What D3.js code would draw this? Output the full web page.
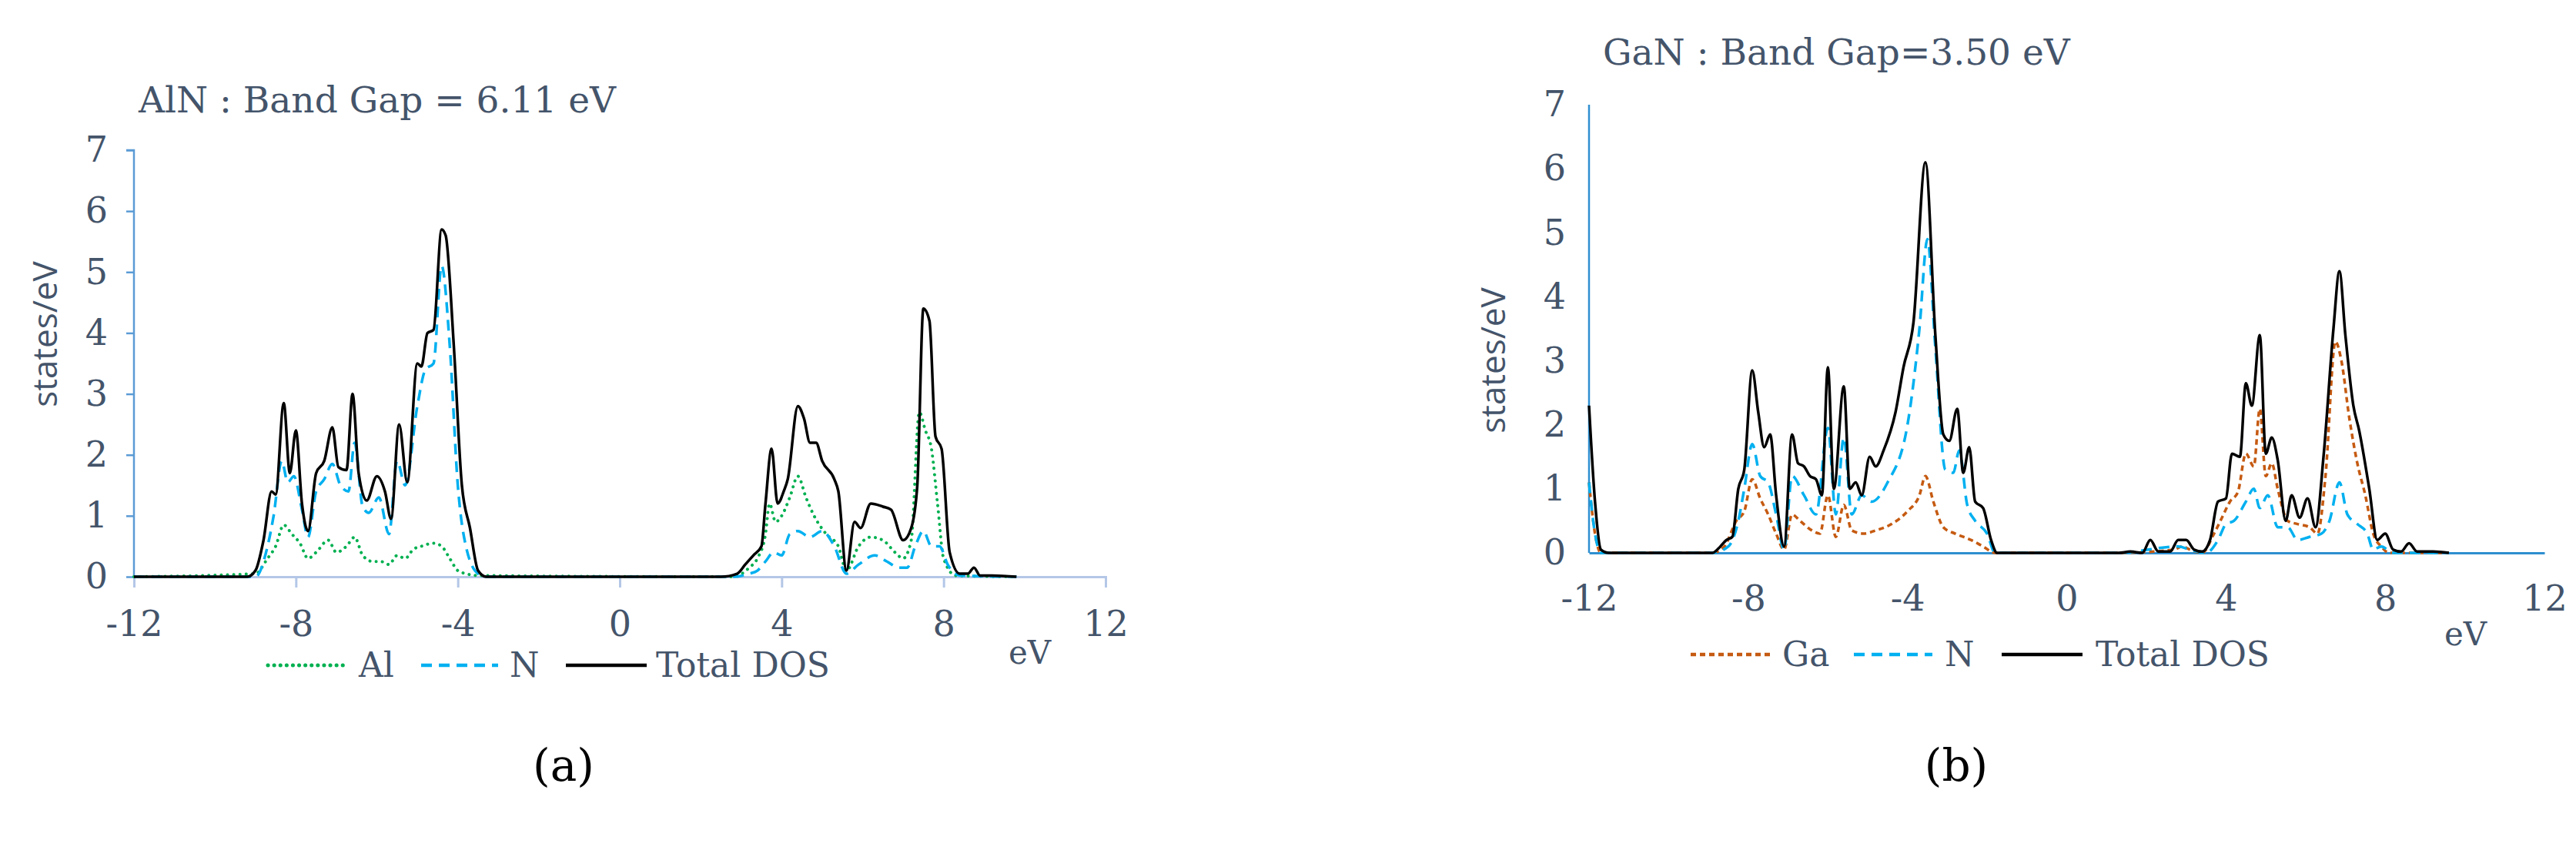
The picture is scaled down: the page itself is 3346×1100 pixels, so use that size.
<!DOCTYPE html>
<html><head><meta charset="utf-8">
<script src="https://cdn.jsdelivr.net/npm/d3@7"></script>
<style>body{margin:0;background:#fff}svg{display:block}</style>
</head><body>
<svg id="c" width="3346" height="1100"></svg>
<script>
// ---- data ----
const xTicks = [-12,-8,-4,0,4,8,12];
const yTicks = [0,1,2,3,4,5,6,7];
const alnTotal = [[-12,0],[-9.2,0],[-9,0.1],[-8.8,0.6],[-8.6,1.4],[-8.5,1.35],[-8.3,2.85],[-8.15,1.7],[-8.0,2.4],[-7.85,1.2],[-7.7,0.75],[-7.5,1.7],[-7.3,1.9],[-7.1,2.45],[-6.95,1.8],[-6.75,1.75],[-6.6,3.0],[-6.45,1.7],[-6.25,1.25],[-6.0,1.65],[-5.8,1.4],[-5.65,0.95],[-5.45,2.5],[-5.25,1.55],[-5.0,3.5],[-4.9,3.45],[-4.75,4.0],[-4.6,4.05],[-4.4,5.7],[-4.3,5.6],[-4.1,3.8],[-3.9,1.5],[-3.7,0.8],[-3.5,0.1],[-3.3,0],[2.5,0],[2.9,0.05],[3.1,0.2],[3.3,0.35],[3.5,0.5],[3.6,1.2],[3.75,2.1],[3.9,1.2],[4.05,1.4],[4.15,1.6],[4.4,2.8],[4.55,2.6],[4.7,2.2],[4.85,2.2],[5.0,1.9],[5.3,1.6],[5.4,1.4],[5.6,0.1],[5.8,0.9],[5.95,0.8],[6.2,1.2],[6.5,1.15],[6.7,1.1],[7.0,0.6],[7.2,0.8],[7.35,1.5],[7.5,4.4],[7.65,4.2],[7.8,2.3],[7.95,2.1],[8.15,0.4],[8.4,0.05],[8.6,0.05],[8.75,0.15],[8.9,0.02],[9.2,0.02],[9.8,0]];
const alnN = [[-12,0],[-9,0],[-8.7,0.5],[-8.55,1.0],[-8.35,1.9],[-8.2,1.55],[-8.05,1.65],[-7.85,1.1],[-7.7,0.65],[-7.5,1.4],[-7.3,1.6],[-7.1,1.85],[-6.9,1.5],[-6.7,1.4],[-6.55,2.2],[-6.35,1.15],[-6.2,1.05],[-5.95,1.3],[-5.7,0.7],[-5.5,1.9],[-5.3,1.5],[-5.0,2.8],[-4.8,3.4],[-4.6,3.5],[-4.4,5.1],[-4.2,3.8],[-4.0,1.5],[-3.8,0.5],[-3.5,0.05],[-3.3,0],[2.8,0],[3.2,0.05],[3.4,0.1],[3.6,0.25],[3.8,0.4],[4.0,0.35],[4.2,0.7],[4.4,0.75],[4.7,0.65],[5.0,0.75],[5.3,0.5],[5.6,0.05],[5.9,0.2],[6.3,0.35],[6.6,0.25],[6.9,0.15],[7.1,0.15],[7.3,0.5],[7.5,0.75],[7.7,0.5],[7.9,0.5],[8.1,0.2],[8.4,0.02],[9.8,0]];
const alnAl = [[-12,0],[-9,0.05],[-8.7,0.3],[-8.5,0.5],[-8.3,0.85],[-8.1,0.7],[-7.9,0.55],[-7.7,0.3],[-7.5,0.4],[-7.2,0.6],[-7.0,0.4],[-6.75,0.5],[-6.55,0.65],[-6.35,0.35],[-6.1,0.25],[-5.9,0.25],[-5.7,0.2],[-5.5,0.35],[-5.3,0.3],[-5.1,0.45],[-4.9,0.5],[-4.6,0.55],[-4.4,0.5],[-4.2,0.3],[-4.0,0.1],[-3.8,0.05],[-3.5,0.02],[2.8,0],[3.2,0.15],[3.4,0.3],[3.6,0.7],[3.7,1.2],[3.85,0.9],[4.0,1.0],[4.2,1.3],[4.4,1.65],[4.6,1.3],[4.8,1.0],[5.1,0.7],[5.4,0.5],[5.6,0.1],[5.9,0.5],[6.2,0.65],[6.5,0.6],[6.8,0.4],[7.0,0.3],[7.2,0.6],[7.4,2.7],[7.55,2.4],[7.7,2.1],[7.85,1.2],[8.0,0.3],[8.3,0.02],[9.8,0]];
const ganTotal = [[-12,2.3],[-11.85,0.8],[-11.7,0.05],[-11.5,0],[-8.9,0],[-8.7,0.1],[-8.55,0.2],[-8.4,0.25],[-8.25,1.0],[-8.1,1.3],[-7.9,2.85],[-7.75,2.2],[-7.6,1.65],[-7.45,1.85],[-7.3,0.9],[-7.1,0.1],[-6.9,1.85],[-6.75,1.4],[-6.6,1.35],[-6.45,1.2],[-6.3,1.15],[-6.15,0.9],[-6.0,2.9],[-5.85,1.0],[-5.6,2.6],[-5.45,1.0],[-5.3,1.1],[-5.15,0.9],[-4.95,1.5],[-4.8,1.35],[-4.6,1.6],[-4.3,2.2],[-4.1,2.9],[-3.85,3.6],[-3.55,6.1],[-3.3,3.4],[-3.1,1.85],[-2.95,1.75],[-2.75,2.25],[-2.6,1.25],[-2.45,1.65],[-2.3,0.8],[-2.1,0.7],[-1.9,0.2],[-1.75,0],[1.3,0],[1.6,0.02],[1.9,0],[2.1,0.2],[2.3,0.02],[2.6,0.02],[2.8,0.2],[3.0,0.2],[3.2,0.05],[3.4,0.02],[3.6,0.2],[3.8,0.8],[4.0,0.85],[4.15,1.55],[4.35,1.5],[4.5,2.65],[4.65,2.3],[4.85,3.4],[5.0,1.55],[5.15,1.8],[5.3,1.45],[5.5,0.5],[5.65,0.9],[5.85,0.55],[6.05,0.85],[6.25,0.4],[6.45,1.5],[6.7,3.5],[6.85,4.4],[7.0,3.4],[7.2,2.3],[7.35,1.9],[7.6,1.0],[7.8,0.2],[8.0,0.3],[8.2,0.05],[8.4,0.02],[8.6,0.15],[8.8,0.02],[9.2,0.02],[9.6,0]];
const ganGa = [[-12,1.1],[-11.85,0.3],[-11.7,0],[-8.9,0],[-8.6,0.1],[-8.3,0.5],[-8.1,0.65],[-7.9,1.15],[-7.7,0.85],[-7.5,0.6],[-7.3,0.3],[-7.1,0.05],[-6.9,0.6],[-6.7,0.5],[-6.4,0.35],[-6.2,0.3],[-6.0,0.9],[-5.8,0.25],[-5.6,0.75],[-5.4,0.35],[-5.1,0.3],[-4.8,0.35],[-4.4,0.45],[-4.0,0.65],[-3.7,0.9],[-3.55,1.2],[-3.35,0.8],[-3.1,0.4],[-2.8,0.3],[-2.4,0.2],[-2.1,0.1],[-1.8,0],[1.3,0],[2.7,0.05],[2.9,0.1],[3.1,0.05],[3.4,0],[3.7,0.3],[3.9,0.55],[4.1,0.8],[4.3,0.95],[4.5,1.55],[4.7,1.35],[4.85,2.25],[5.0,1.2],[5.15,1.4],[5.3,1.0],[5.55,0.5],[5.8,0.45],[6.1,0.4],[6.3,0.3],[6.5,1.2],[6.75,3.3],[6.9,3.0],[7.1,2.1],[7.3,1.4],[7.5,0.9],[7.7,0.3],[7.9,0.1],[8.1,0],[9.6,0]];
const ganN = [[-12,1.1],[-11.85,0.3],[-11.7,0],[-8.9,0],[-8.5,0.1],[-8.25,0.5],[-8.1,1.0],[-7.9,1.7],[-7.7,1.2],[-7.5,1.1],[-7.3,0.6],[-7.1,0.05],[-6.9,1.2],[-6.6,0.9],[-6.3,0.6],[-6.0,1.95],[-5.8,0.6],[-5.6,1.8],[-5.4,0.6],[-5.15,0.9],[-4.9,0.8],[-4.5,1.1],[-4.0,2.0],[-3.7,3.5],[-3.5,4.9],[-3.3,3.2],[-3.05,1.3],[-2.85,1.25],[-2.7,1.6],[-2.5,0.75],[-2.3,0.5],[-2.0,0.3],[-1.8,0],[1.3,0],[2.8,0.1],[3.1,0.05],[3.5,0],[3.8,0.2],[4.0,0.45],[4.2,0.5],[4.5,0.8],[4.7,1.0],[4.85,0.7],[5.05,0.9],[5.3,0.4],[5.55,0.4],[5.8,0.2],[6.1,0.25],[6.4,0.3],[6.6,0.5],[6.85,1.1],[7.05,0.6],[7.3,0.45],[7.55,0.3],[7.7,0.05],[7.9,0.1],[8.2,0],[9.6,0]];

// ---- drawing ----
const svg = d3.select('#c');
const TXT = '#44546a', SERIF = '"DejaVu Serif", "Liberation Serif", serif';
const C_TOT = '#000', C_N = '#00b0f0', C_AL = '#00b050', C_GA = '#c55a11';
const fmt = d => String(d);

function panel(o) {
  const x = d3.scaleLinear().domain([-12,12]).range([o.x0,o.x1]);
  const y = d3.scaleLinear().domain([0,7]).range([o.y0,o.y1]);
  const g = svg.append('g');
  g.append('text').attr('x',o.tx).attr('y',o.ty).attr('fill',TXT)
    .style('font-family',SERIF).style('font-size','47px').text(o.title);
  const ya = d3.axisLeft(y).tickValues(yTicks).tickFormat(fmt).tickSize(o.ticks?10:0).tickPadding(o.ticks?24:30);
  const yg = g.append('g').attr('transform',`translate(${o.x0},0)`).call(ya);
  yg.select('.domain').attr('stroke',o.yColor).attr('stroke-width',2.5).attr('d',`M${o.ticks?-10:0},${y(7)}H0V${y(0)}`);
  yg.selectAll('.tick line').attr('stroke',o.yColor).attr('stroke-width',2.5);
  yg.selectAll('text').attr('fill',TXT).style('font-family',SERIF).style('font-size','46px');
  const xa = d3.axisBottom(x).tickValues(xTicks).tickFormat(fmt).tickSize(o.ticks?14:0).tickPadding(o.ticks?30:42);
  const xg = g.append('g').attr('transform',`translate(0,${o.y0})`).call(xa);
  xg.select('.domain').attr('stroke',o.xColor).attr('stroke-width',3);
  xg.selectAll('.tick line').attr('stroke',o.xColor).attr('stroke-width',3);
  xg.selectAll('text').attr('fill',TXT).style('font-family',SERIF).style('font-size','46px');
  g.append('text').attr('x',o.evx).attr('y',o.evy).attr('fill',TXT)
    .style('font-family',SERIF).style('font-size','42px').text('eV');
  g.append('text').attr('transform',`translate(${o.ylx},${o.yly}) rotate(-90)`).attr('text-anchor','middle')
    .attr('fill',TXT).style('font-family','"Open Sans", sans-serif').style('font-size','44px').text('states/eV');
  const line = d3.line().x(d=>x(d[0])).y(d=>y(d[1])).curve(d3.curveMonotoneX);
  o.series.forEach(s => {
    g.append('path').datum(s.data).attr('d',line).attr('fill','none')
      .attr('stroke',s.color).attr('stroke-width',s.w).attr('stroke-dasharray',s.dash)
      .attr('stroke-linecap',s.cap||'butt').attr('stroke-linejoin','round');
  });
  o.legend.forEach(l => {
    const s = o.series[l.i];
    g.append('line').attr('x1',l.x1).attr('x2',l.x2).attr('y1',o.ly).attr('y2',o.ly)
      .attr('stroke',s.color).attr('stroke-width',s.w+1).attr('stroke-dasharray',s.dash).attr('stroke-linecap',s.cap||'butt');
    g.append('text').attr('x',l.tx).attr('y',o.ly+15).attr('fill',TXT)
      .style('font-family',SERIF).style('font-size','44px').text(s.name);
  });
  g.append('text').attr('x',o.capx).attr('y',1014).attr('text-anchor','middle').attr('fill','#000')
    .style('font-family',SERIF).style('font-size','58px').text(o.cap);
}

panel({x0:174,x1:1436,y0:749,y1:195,ticks:true,yColor:'#5b9bd5',xColor:'#b4c7e7',
  title:'AlN : Band Gap = 6.11 eV',tx:180,ty:146,evx:1310,evy:862,ylx:74,yly:434,
  series:[{name:'Al',data:alnAl,color:C_AL,w:4,dash:'0.1 8',cap:'round'},
          {name:'N',data:alnN,color:C_N,w:3.5,dash:'14 9'},
          {name:'Total DOS',data:alnTotal,color:C_TOT,w:3.5,dash:null}],
  ly:864,legend:[{i:0,x1:348,x2:447,tx:466},{i:1,x1:547,x2:647,tx:662},{i:2,x1:735,x2:840,tx:852}],
  capx:732,cap:'(a)'});

panel({x0:2064,x1:3305,y0:718,y1:136,ticks:false,yColor:'#2e8fd0',xColor:'#2e8fd0',
  title:'GaN : Band Gap=3.50 eV',tx:2082,ty:84,evx:3175,evy:838,ylx:1955,yly:468,
  series:[{name:'Ga',data:ganGa,color:C_GA,w:3.5,dash:'7 5'},
          {name:'N',data:ganN,color:C_N,w:3.5,dash:'14 9'},
          {name:'Total DOS',data:ganTotal,color:C_TOT,w:3.5,dash:null}],
  ly:850,legend:[{i:0,x1:2196,x2:2302,tx:2315},{i:1,x1:2408,x2:2510,tx:2526},{i:2,x1:2600,x2:2705,tx:2722}],
  capx:2541,cap:'(b)'});
</script>
</body></html>
